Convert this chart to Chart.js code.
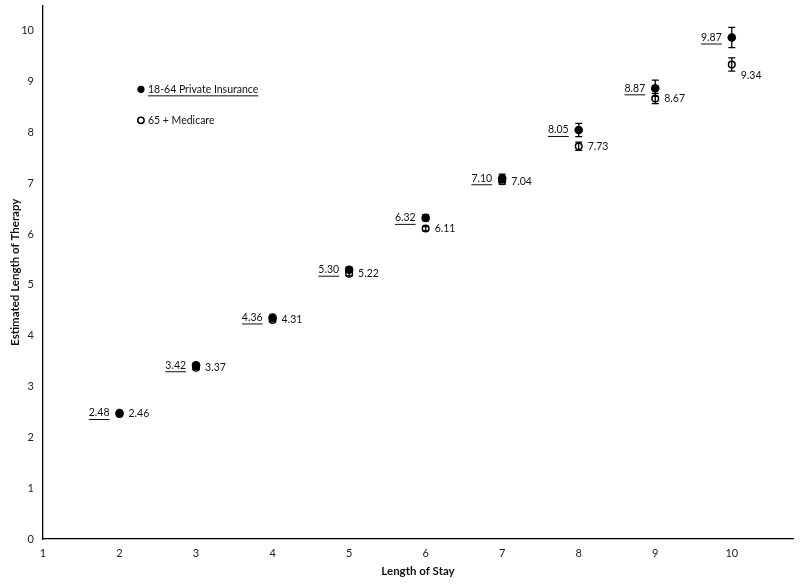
<!DOCTYPE html>
<html>
<head>
<meta charset="utf-8">
<script src="https://cdn.jsdelivr.net/npm/chart.js@4"></script>
<style>
html,body{margin:0;padding:0;background:#fff;}
#wrap{width:800px;height:584px;}
</style>
</head>
<body>
<div id="wrap"><canvas id="c" width="800" height="584"></canvas></div>
<script>
const lengthOfStay = [2, 3, 4, 5, 6, 7, 8, 9, 10];
const privateValues = [2.48, 3.42, 4.36, 5.30, 6.32, 7.10, 8.05, 8.87, 9.87];
const medicareValues = [2.46, 3.37, 4.31, 5.22, 6.11, 7.04, 7.73, 8.67, 9.34];
const privateErrors = [0.02, 0.03, 0.04, 0.05, 0.06, 0.08, 0.13, 0.16, 0.2];
const medicareErrors = [0.02, 0.03, 0.03, 0.04, 0.04, 0.06, 0.08, 0.1, 0.13];
const seriesNames = ['18-64 Private Insurance', '65 + Medicare'];
const xTitle = 'Length of Stay';
const yTitle = 'Estimated Length of Therapy';

const FONT = "Lato, 'Liberation Sans', Arial, sans-serif";

const errorPlugin = {
  id: 'errorBars',
  afterDatasetsDraw(chart) {
    const ctx = chart.ctx;
    const xs = chart.scales.x, ys = chart.scales.y;
    const sets = [[privateValues, privateErrors], [medicareValues, medicareErrors]];
    ctx.save();
    ctx.strokeStyle = '#000';
    ctx.lineWidth = 1.3;
    sets.forEach(([vals, errs]) => {
      vals.forEach((v, i) => {
        const px = xs.getPixelForValue(lengthOfStay[i]);
        const top = ys.getPixelForValue(v + errs[i]);
        const bot = ys.getPixelForValue(v - errs[i]);
        ctx.beginPath();
        ctx.moveTo(px, top); ctx.lineTo(px, bot);
        ctx.moveTo(px - 3.5, top); ctx.lineTo(px + 3.5, top);
        ctx.moveTo(px - 3.5, bot); ctx.lineTo(px + 3.5, bot);
        ctx.stroke();
      });
    });
    // value labels
    ctx.font = '10.5px ' + FONT;
    ctx.fillStyle = '#111';
    ctx.textBaseline = 'middle';
    privateValues.forEach((v, i) => {
      const px = xs.getPixelForValue(lengthOfStay[i]);
      const py = ys.getPixelForValue(v);
      const t = v.toFixed(2);
      ctx.textAlign = 'right';
      ctx.fillText(t, px - 10, py);
      const w = ctx.measureText(t).width;
      ctx.fillRect(px - 10 - w, py + 6, w, 1);
    });
    medicareValues.forEach((v, i) => {
      const px = xs.getPixelForValue(lengthOfStay[i]);
      let py = ys.getPixelForValue(v);
      if (i === medicareValues.length - 1) py += 11;
      ctx.textAlign = 'left';
      ctx.fillText(v.toFixed(2), px + 9, py);
    });
    // legend
    const lx = xs.getPixelForValue(2.28);
    const l1 = ys.getPixelForValue(8.85);
    const l2 = ys.getPixelForValue(8.24);
    ctx.beginPath();
    ctx.arc(lx, l1, 3.6, 0, Math.PI * 2);
    ctx.fillStyle = '#000';
    ctx.fill();
    ctx.beginPath();
    ctx.arc(lx, l2, 3.2, 0, Math.PI * 2);
    ctx.lineWidth = 1.5;
    ctx.fillStyle = '#fff';
    ctx.fill();
    ctx.stroke();
    ctx.fillStyle = '#111';
    ctx.textAlign = 'left';
    ctx.fillText(seriesNames[0], lx + 7, l1);
    const w0 = ctx.measureText(seriesNames[0]).width;
    ctx.fillRect(lx + 7, l1 + 6, w0, 1);
    ctx.fillText(seriesNames[1], lx + 7, l2);
    ctx.restore();
  }
};

new Chart(document.getElementById('c'), {
  type: 'scatter',
  data: {
    datasets: [
      {
        label: seriesNames[0],
        data: lengthOfStay.map((x, i) => ({x, y: privateValues[i]})),
        pointRadius: 4.3,
        pointBackgroundColor: '#000',
        pointBorderColor: '#000',
        pointBorderWidth: 0
      },
      {
        label: seriesNames[1],
        data: lengthOfStay.map((x, i) => ({x, y: medicareValues[i]})),
        pointRadius: 3.3,
        pointBackgroundColor: '#fff',
        pointBorderColor: '#000',
        pointBorderWidth: 1.5
      }
    ]
  },
  options: {
    responsive: false,
    animation: false,
    layout: {padding: {left: 8, right: 7, top: 3, bottom: 6}},
    plugins: {legend: {display: false}, tooltip: {enabled: false}},
    scales: {
      x: {
        type: 'linear', min: 1, max: 10.8,
        afterBuildTicks: s => { s.ticks = s.ticks.filter(t => Number.isInteger(t.value)); },
        afterFit: s => { s.paddingLeft = 0; s.paddingRight = 0; },
        ticks: {stepSize: 1, color: '#222', font: {family: FONT, size: 11}, padding: 0},
        grid: {display: false},
        border: {display: true, color: '#000', width: 1.3},
        title: {display: true, text: xTitle, color: '#111', font: {family: FONT, size: 11.5, weight: 'bold'}, padding: {top: 4, bottom: 0}}
      },
      y: {
        type: 'linear', min: 0, max: 10.5,
        afterBuildTicks: s => { s.ticks = s.ticks.filter(t => Number.isInteger(t.value)); },
        afterFit: s => { s.width = 35; s.paddingTop = 0; s.paddingBottom = 0; },
        ticks: {stepSize: 1, color: '#222', font: {family: FONT, size: 11}, padding: 9},
        grid: {display: false, tickLength: 0},
        border: {display: true, color: '#000', width: 1.3},
        title: {display: true, text: yTitle, color: '#111', font: {family: FONT, size: 11.5, weight: 'bold'}, padding: {top: 0, bottom: 0}}
      }
    }
  },
  plugins: [errorPlugin]
});
</script>
</body>
</html>
